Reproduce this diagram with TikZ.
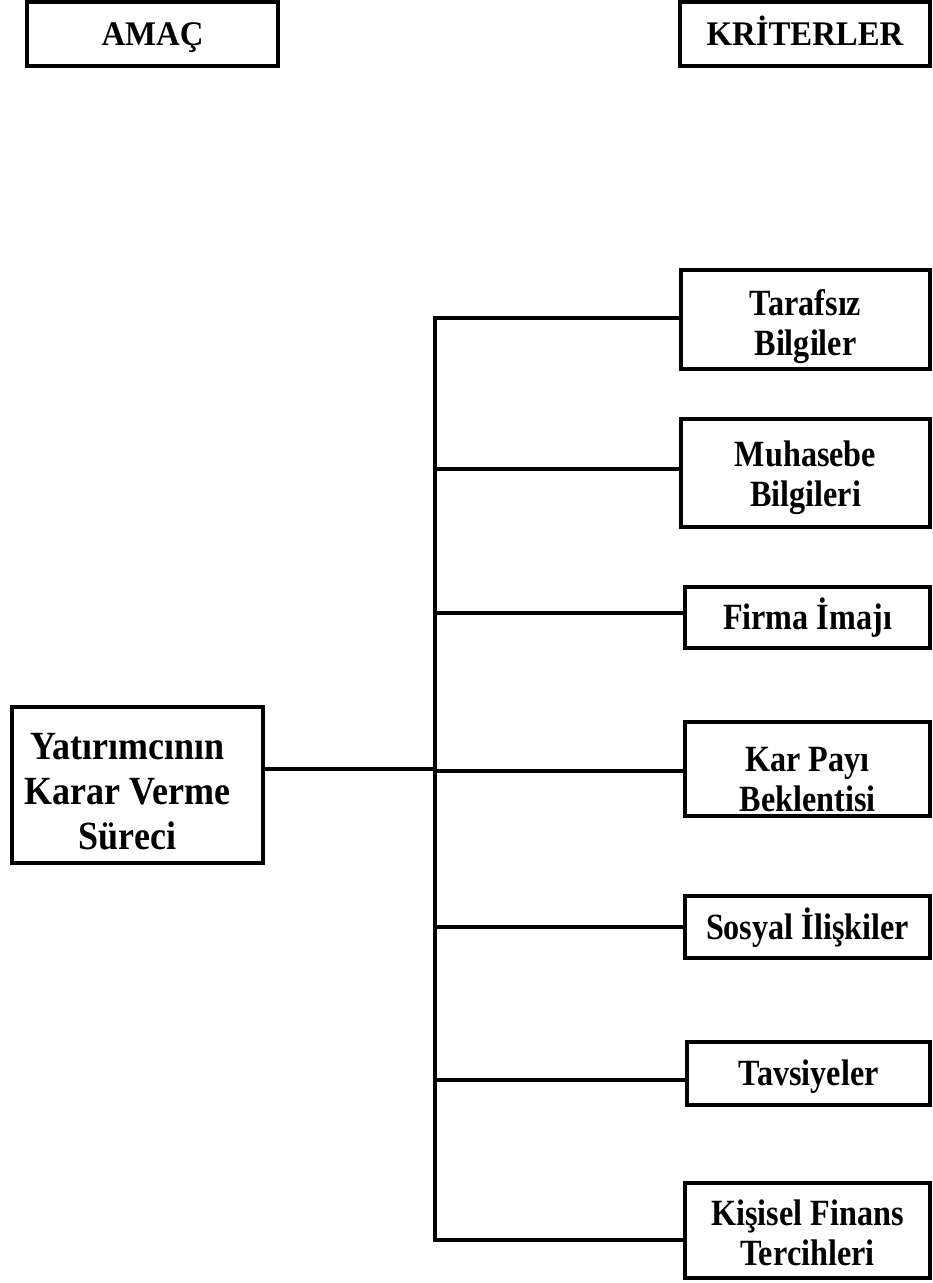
\documentclass[tikz,border=0pt]{standalone}
\usepackage{fontspec}
\setmainfont{Liberation Serif}
\newfontfamily\kutufont[FakeStretch=0.87]{Liberation Serif}
\newfontfamily\anafont[FakeStretch=0.9]{Liberation Serif}
\newfontfamily\baslikfont[FakeStretch=0.95]{Liberation Serif}
\usetikzlibrary{calc}
\newcommand{\ustpay}[1]{\rule{0pt}{#1pt}}
\newcommand{\altpay}[1]{\rule[-#1pt]{0pt}{#1pt}}
\tikzset{
  kutu/.style={draw,line width=4.5pt,inner sep=0pt,align=center,
    font=\kutufont\bfseries\fontsize{37}{40}\selectfont},
  tek/.style={text height=29pt,text depth=5pt},
  baslik/.style={kutu,minimum width=251,minimum height=64,text height=27pt,text depth=5pt,
    font=\baslikfont\bfseries\fontsize{34.5}{40}\selectfont},
  dal/.style={line width=4.5pt}
}
\begin{document}
\begin{tikzpicture}[x=1pt,y=-1pt]
\useasboundingbox(0,0)rectangle(933,1283);
%headers
\node[baslik](amac)at(152.5,34){AMAÇ};
\node[baslik,minimum width=250](kriter)at(805,34){KRİTERLER};
%goal
\node[kutu,minimum width=251,minimum height=156,font=\anafont\bfseries\fontsize{40}{45}\selectfont](yatirimci)at(137.5,785)
  {\begin{tabular}{@{}c@{\hspace{20pt}}}\ustpay{52.5}Yatırımcının\\Karar Verme\\Süreci\altpay{12}\end{tabular}};
%criteria
\node[kutu,minimum width=249,minimum height=99](tarafsiz)at(805.5,319.5){\ustpay{45}Tarafsız\\Bilgiler\altpay{14}};
\node[kutu,minimum width=249,minimum height=108](muhasebe)at(805.5,473){\ustpay{47}Muhasebe\\Bilgileri\altpay{21}};
\node[kutu,tek,minimum width=245,minimum height=61](firma)at(807.5,617.5){Firma İmajı};
\node[kutu,minimum width=245,minimum height=94](karpayi)at(807.5,769){\ustpay{49}Kar Payı\\Beklentisi\altpay{5}};
\node[kutu,tek,minimum width=245,minimum height=62](sosyal)at(807.5,927){Sosyal İlişkiler};
\node[kutu,tek,minimum width=243,minimum height=63](tavsiye)at(808.5,1073.5){Tavsiyeler};
\node[kutu,minimum width=245,minimum height=95](kisisel)at(807.5,1230.5){\ustpay{42}Kişisel Finans\\Tercihleri\altpay{12}};
%trunk
\coordinate(govde)at(435,0);
\draw[dal,line join=miter]([yshift=1.5pt]tarafsiz.west)--([yshift=1.5pt]tarafsiz.west-|govde)
  --([yshift=-9.5pt]kisisel.west-|govde)--([yshift=-9.5pt]kisisel.west);
%branches
\foreach \n/\s in {muhasebe/4,firma/4.5,karpayi/-2,sosyal/0,tavsiye/-6.5}{
\draw[dal]([yshift=\s pt]\n.west-|govde)--([yshift=\s pt]\n.west);
}
\draw[dal]([yshift=16pt]yatirimci.east)--([yshift=16pt]yatirimci.east-|govde);
\end{tikzpicture}
\end{document}
